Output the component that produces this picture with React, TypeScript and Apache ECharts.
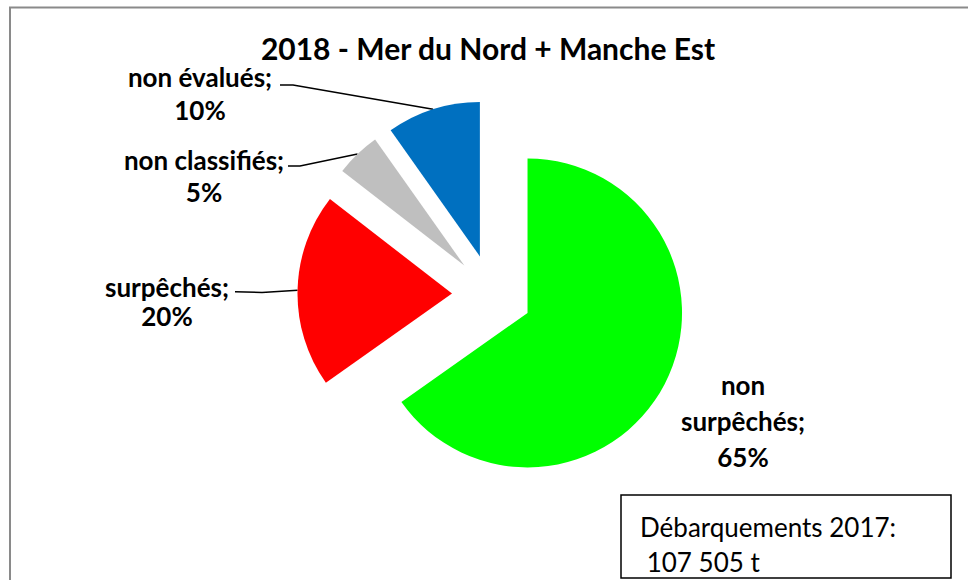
import React, { useEffect, useRef } from "react";
import * as echarts from "echarts";

const categories = ["non surpêchés", "surpêchés", "non classifiés", "non évalués"];
const labelNames = ["non\nsurpêchés", "surpêchés", "non classifiés", "non évalués"];
const shares = [65.2, 20.3, 4.7, 9.8];
const colors = ["#00FF00", "#FF0000", "#BFBFBF", "#0070C0"];
const titleText = "2018 - Mer du Nord + Manche Est";
const noteLines = ["Débarquements 2017:", " 107 505 t"];

// layout / style
const pieCenter = [492, 294.5];
const pieRadius = 154.5;
const explode = 40;
const labelPos: [number, number][] = [
  [743, 421],
  [167, 301],
  [204, 176],
  [200, 93],
];
const labelLineHeights = [36, 29, 32, 33];
const labelLineTail: ([number, number][] | null)[] = [
  null,
  [[262, 292.5], [235, 291.7]],
  [[300, 166], [288, 166]],
  [[293, 85], [280, 85]],
];

export default function App() {
  const ref = useRef<HTMLDivElement>(null);
  useEffect(() => {
    document.body.style.margin = "0";
    if (!ref.current) return;
    const chart = echarts.init(ref.current, null, { renderer: "svg" });
    const font = "Lato, 'Open Sans', sans-serif";
    const total = shares.reduce((a, b) => a + b, 0);
    let acc = 0;
    const series = categories.map((_, k) => {
      const start = acc;
      acc += shares[k];
      const mid = ((start + shares[k] / 2) / total) * Math.PI * 2; // clockwise from top
      const cx = pieCenter[0] + explode * Math.sin(mid);
      const cy = pieCenter[1] - explode * Math.cos(mid);
      return {
        type: "pie",
        center: [cx, cy],
        radius: pieRadius,
        startAngle: 90,
        clockwise: true,
        avoidLabelOverlap: false,
        silent: true,
        emphasis: { disabled: true, scale: false },
        itemStyle: { borderWidth: 0 },
        label: {
          show: false,
          position: "outside",
          fontFamily: font,
          fontWeight: "bold",
          fontSize: 26,
          color: "#000",
          align: "center",
          formatter: (p: any) =>
            `${labelNames[p.dataIndex]};\n${Math.round(p.percent)}%`,
        },
        labelLine: {
          show: false,
          lineStyle: { color: "#000", width: 1.5 },
        },
        labelLayout: (p: any) => {
          const i = p.dataIndex;
          const out: any = {
            x: labelPos[i][0],
            y: labelPos[i][1],
            align: "center",
            verticalAlign: "middle",
          };
          const tail = labelLineTail[i];
          if (tail && p.labelLinePoints) {
            out.labelLinePoints = [p.labelLinePoints[0], tail[0], tail[1]];
          }
          return out;
        },
        data: categories.map((c, i) => ({
          name: c,
          value: shares[i],
          itemStyle: { color: i === k ? colors[i] : "rgba(0,0,0,0)" },
          label: { show: i === k, lineHeight: labelLineHeights[i] },
          labelLine: { show: i === k && labelLineTail[i] !== null },
        })),
      };
    });
    chart.setOption({
      animation: false,
      graphic: [
        {
          type: "rect",
          shape: { x: 10, y: 7.5, width: 1000, height: 620 },
          style: { fill: "none", stroke: "#8a8a8a", lineWidth: 2 },
          silent: true,
        },
        {
          type: "text",
          x: 488,
          y: 48,
          style: {
            text: titleText,
            font: `bold 30px ${font}`,
            fill: "#000",
            align: "center",
            verticalAlign: "middle",
          },
        },
        {
          type: "rect",
          shape: { x: 621, y: 495, width: 330, height: 83 },
          style: { fill: "#fff", stroke: "#000", lineWidth: 1.5 },
        },
        {
          type: "text",
          x: 640,
          y: 527,
          style: {
            text: noteLines[0],
            font: `26px ${font}`,
            fill: "#000",
            align: "left",
            verticalAlign: "middle",
          },
        },
        {
          type: "text",
          x: 640,
          y: 562,
          style: {
            text: noteLines[1],
            font: `26px ${font}`,
            fill: "#000",
            align: "left",
            verticalAlign: "middle",
          },
        },
      ],
      series,
    });
    return () => chart.dispose();
  }, []);
  return <div ref={ref} style={{ width: 968, height: 580 }} />;
}
